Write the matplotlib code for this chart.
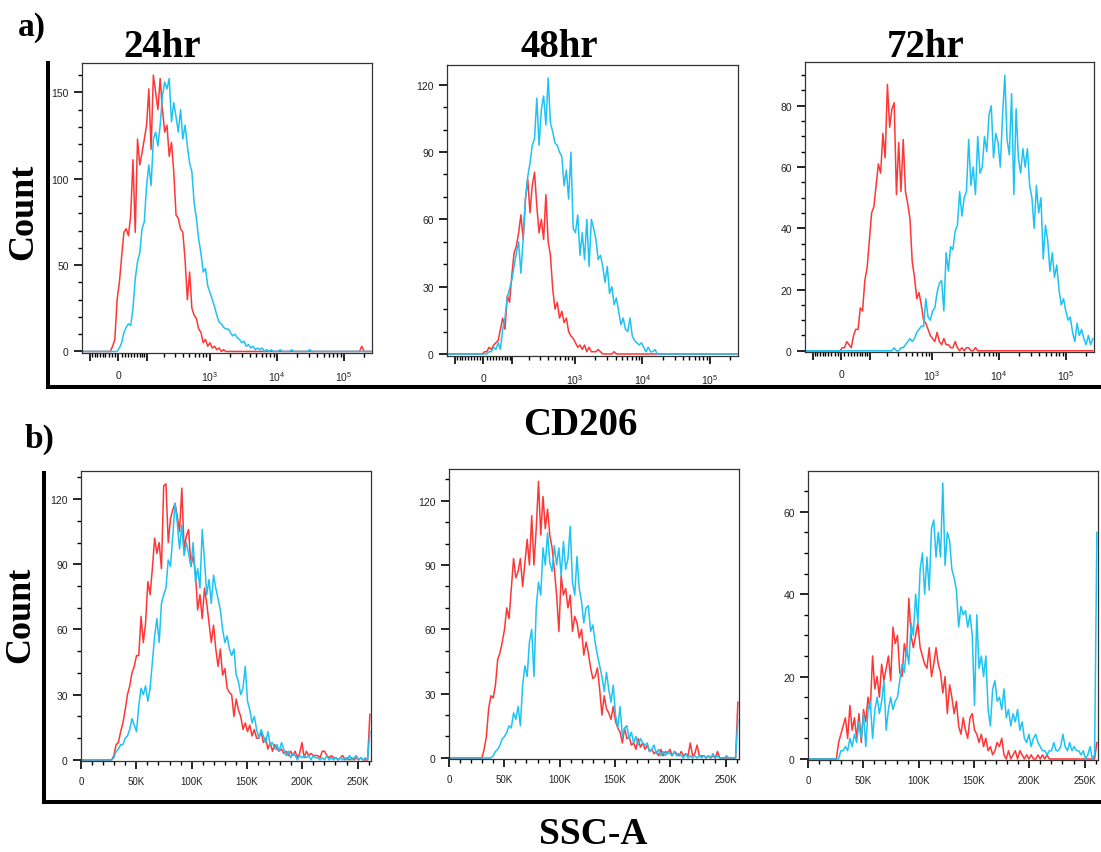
import numpy as np
import matplotlib
matplotlib.use('Agg')
import matplotlib.pyplot as plt
from matplotlib.lines import Line2D

W, H = 1101, 853
plt.rcParams['mathtext.default'] = 'regular'

RED = '#ff3636'
CYAN = '#1ec3f3'
N_BINS = 128

# ---------------- CD206 histograms (biexponential axis) ----------------
# counts per bin, starting at bin index *_start
cd206_24h_red_start = 12
cd206_24h_red = [0, 3, 7, 30, 40, 55, 69, 71, 67, 79, 111, 69, 123, 108, 115, 123, 131, 152,
                 117, 160, 150, 140, 158, 140, 127, 131, 113, 121, 104, 79, 77, 71, 69, 53,
                 30, 46, 25, 21, 19, 13, 11, 5, 7, 3, 5, 2, 3, 1, 2, 0, 1] + [0] * 60 + [3]
cd206_24h_cyan_start = 14
cd206_24h_cyan = [0, 0, 2, 5, 11, 14, 16, 15, 25, 42, 52, 57, 71, 75, 96, 108, 96, 123, 127,
                  119, 131, 148, 156, 152, 158, 133, 144, 136, 127, 140, 123, 131, 119, 109,
                  104, 86, 77, 65, 57, 46, 48, 38, 34, 30, 26, 21, 17, 16, 14, 13, 13, 11, 9,
                  10, 8, 7, 5, 6, 3, 4, 2, 3, 1, 2, 1, 2, 0, 1, 0, 1, 0, 0, 0, 1, 0, 0, 0, 0,
                  1, 0, 0, 0, 0, 0, 0, 0, 1]

cd206_48h_red_start = 15
cd206_48h_red = [0, 1, 1, 3, 2, 4, 5, 6, 11, 16, 11, 26, 23, 35, 45, 48, 54, 62, 51, 69, 78,
                 63, 75, 81, 66, 54, 60, 51, 71, 50, 44, 29, 20, 23, 16, 19, 14, 16, 10, 8, 7,
                 5, 3, 4, 2, 4, 1, 3, 1, 1, 1, 2, 1, 0, 0, 0, 0, 0, 1]
cd206_48h_cyan_start = 17
cd206_48h_cyan = [0, 1, 1, 3, 2, 5, 2, 11, 16, 25, 29, 33, 39, 45, 50, 36, 51, 69, 79, 85, 93,
                  96, 114, 93, 109, 115, 102, 123, 103, 99, 94, 93, 90, 88, 75, 82, 69, 90, 56,
                  54, 62, 44, 54, 42, 60, 39, 60, 56, 51, 42, 44, 39, 32, 39, 27, 30, 22, 25,
                  19, 13, 16, 11, 10, 16, 8, 6, 5, 4, 5, 3, 1, 3, 1, 1, 2, 0]

cd206_72h_red_start = 15
cd206_72h_red = [0, 1, 1, 3, 2, 1, 5, 7, 7, 14, 13, 23, 27, 36, 45, 47, 54, 61, 58, 71, 63,
                 87, 73, 79, 81, 51, 68, 52, 69, 52, 48, 43, 29, 24, 17, 19, 15, 10, 9, 7, 5,
                 4, 3, 6, 3, 2, 4, 2, 2, 1, 1, 3, 1, 0, 1, 0, 1, 1, 0, 0, 1]
cd206_72h_cyan_start = 38
cd206_72h_cyan = [0, 1, 0, 0, 1, 1, 2, 3, 4, 3, 4, 6, 7, 8, 8, 17, 11, 10, 13, 14, 19, 22, 23,
                  13, 32, 26, 34, 33, 39, 41, 52, 44, 50, 52, 69, 54, 60, 51, 70, 58, 60, 70,
                  65, 77, 80, 63, 71, 68, 60, 77, 90, 69, 64, 84, 51, 79, 63, 58, 66, 60, 66,
                  54, 50, 40, 54, 45, 50, 30, 41, 36, 26, 32, 24, 28, 20, 15, 17, 13, 10, 11,
                  6, 3, 9, 5, 7, 4, 2, 5, 2, 4]

# ---------------- SSC-A histograms (linear axis, 2048 per bin) ----------------
ssc_24h_red_start = 13
ssc_24h_red = [0, 2, 7, 8, 13, 17, 23, 30, 34, 40, 43, 48, 48, 66, 54, 63, 82, 76, 88, 102, 95,
               100, 88, 126, 127, 100, 111, 115, 118, 112, 105, 125, 97, 103, 106, 89, 94, 86,
               69, 76, 65, 79, 72, 63, 54, 62, 51, 43, 51, 39, 42, 33, 31, 30, 20, 28, 23, 20,
               14, 17, 13, 16, 11, 14, 10, 10, 13, 8, 10, 5, 8, 4, 7, 5, 4, 5, 3, 4, 2, 4, 2,
               4, 1, 3, 8, 1, 4, 2, 3, 2, 2, 2, 1, 4, 4, 2, 1, 2, 1, 1, 0, 1, 2, 0, 1, 0, 1, 0,
               1, 0, 1]
ssc_24h_cyan_start = 13
ssc_24h_cyan = [0, 1, 4, 5, 7, 7, 10, 11, 14, 19, 16, 13, 25, 33, 30, 34, 27, 33, 45, 57, 65,
                54, 72, 76, 79, 92, 89, 103, 118, 109, 97, 108, 94, 100, 95, 89, 100, 82, 88,
                79, 106, 92, 76, 83, 72, 85, 79, 74, 69, 60, 54, 57, 51, 48, 51, 39, 36, 30,
                33, 43, 27, 23, 17, 20, 14, 10, 14, 11, 8, 13, 7, 8, 5, 7, 4, 8, 5, 2, 4, 1, 3,
                2, 0, 2, 1, 2, 1, 2, 0, 2, 1, 1, 0, 1, 0, 2, 0, 1, 0, 1, 0, 1, 0, 1, 0, 2, 0, 1,
                2, 0, 1, 0, 1]
ssc_24h_edge = [21, 13]  # last-channel pile-up (red, cyan)

ssc_48h_red_start = 14
ssc_48h_red = [0, 4, 10, 23, 29, 28, 34, 46, 49, 54, 60, 70, 65, 79, 93, 84, 87, 93, 80, 91,
               102, 90, 113, 90, 107, 129, 104, 122, 107, 116, 104, 98, 88, 76, 59, 85, 76, 79,
               70, 76, 59, 66, 63, 56, 60, 48, 54, 49, 42, 37, 38, 42, 32, 20, 29, 23, 21, 18,
               24, 17, 14, 12, 7, 14, 9, 10, 6, 7, 4, 9, 5, 7, 4, 6, 3, 4, 2, 3, 1, 4, 1, 3, 2,
               4, 1, 3, 2, 1, 3, 1, 2, 1, 7, 1, 2, 6, 1, 1, 1, 0, 1, 0, 1, 0, 3]
ssc_48h_cyan_start = 18
ssc_48h_cyan = [0, 1, 3, 4, 6, 9, 10, 12, 15, 14, 21, 18, 24, 15, 34, 43, 38, 54, 60, 38, 70,
                82, 76, 98, 90, 105, 91, 87, 99, 90, 98, 85, 101, 88, 93, 108, 82, 76, 94, 79,
                73, 63, 70, 71, 59, 62, 54, 48, 43, 38, 31, 40, 32, 26, 34, 20, 14, 24, 10, 14,
                15, 9, 12, 7, 10, 6, 9, 7, 6, 7, 3, 4, 6, 2, 4, 1, 3, 1, 3, 2, 1, 3, 1, 2, 1, 0,
                2, 0, 1, 0, 1, 0, 1, 0, 1, 0, 1, 0, 2, 0, 1, 0, 0, 0, 1]
ssc_48h_edge = [26, 18]

ssc_72h_red_start = 12
ssc_72h_red = [0, 4, 6, 8, 10, 5, 13, 7, 10, 5, 11, 4, 12, 9, 15, 12, 25, 17, 20, 15, 23, 19,
               22, 25, 19, 32, 28, 30, 21, 20, 28, 25, 39, 30, 27, 30, 33, 27, 25, 23, 22, 27,
               20, 23, 27, 23, 21, 16, 20, 11, 18, 15, 11, 14, 8, 6, 10, 7, 5, 10, 11, 7, 6, 4,
               6, 3, 5, 2, 3, 1, 2, 4, 3, 5, 1, 0, 2, 0, 1, 2, 0, 2, 1, 0, 1, 0, 1, 0, 0, 1, 0,
               1, 0, 1]
ssc_72h_cyan_start = 13
ssc_72h_cyan = [0, 2, 2, 3, 2, 5, 3, 6, 4, 9, 5, 11, 3, 12, 14, 5, 12, 15, 11, 14, 19, 7, 12,
                15, 12, 14, 15, 19, 23, 21, 27, 23, 33, 30, 40, 33, 46, 50, 40, 49, 41, 56, 58,
                49, 55, 49, 67, 47, 55, 53, 46, 44, 41, 32, 37, 35, 36, 32, 35, 30, 13, 35, 22,
                25, 20, 25, 12, 8, 17, 19, 14, 15, 12, 17, 10, 12, 8, 11, 9, 12, 7, 9, 5, 4, 6,
                3, 5, 6, 4, 3, 2, 2, 1, 2, 2, 4, 2, 2, 3, 6, 3, 2, 4, 2, 3, 2, 2, 1, 2, 0, 1, 3,
                0, 1]
ssc_72h_edge = [4, 55]

time_labels = ['24hr', '48hr', '72hr']

# y-axis ranges, major and minor tick steps per panel
cd206_ylims = [(-0.9, 167), (-0.9, 128.8), (-0.4, 94.3)]
cd206_ysteps = [(50, 10), (30, 10), (20, 5)]
ssc_ylims = [(-0.5, 132.9), (-0.5, 134.8), (-0.25, 69.9)]
ssc_ysteps = [(30, 10), (30, 10), (20, 5)]

# ---------------- axis transforms ----------------
C = 88.0


def fwd(x):
    return np.arcsinh(np.asarray(x, dtype=float) / C)


def inv(t):
    return C * np.sinh(t)


CD_LIM = (-140, 262144)
SSC_LIM = (0, 262144)
SSC_BIN = 2048

t_edges = np.linspace(fwd(CD_LIM[0]), fwd(CD_LIM[1]), N_BINS + 1)
cd_x = inv((t_edges[:-1] + t_edges[1:]) / 2)
ssc_x = (np.arange(N_BINS) + 0.5) * SSC_BIN


def full(start, vals, edge=None):
    c = np.zeros(N_BINS)
    c[start:start + len(vals)] = vals
    if edge is not None:
        c[-1] = edge
    return c


fig = plt.figure(figsize=(W / 100, H / 100), dpi=100)


def px_axes(l, t, r, b):
    return fig.add_axes([l / W, 1 - b / H, (r - l) / W, (b - t) / H])


def style(ax, ylim, ysteps, xpad, xsize):
    ax.set_ylim(*ylim)
    major, minor = ysteps
    ax.set_yticks(np.arange(0, ylim[1], major))
    ax.set_yticks(np.arange(0, ylim[1], minor), minor=True)
    for s in ax.spines.values():
        s.set_linewidth(0.9)
        s.set_color('#333333')
    ax.tick_params(axis='both', which='major', direction='out', length=5.5, width=1.2,
                   color='black', labelcolor='#222222')
    ax.tick_params(axis='both', which='minor', direction='out', length=2.8, width=1.0,
                   color='black')
    ax.tick_params(axis='y', which='major', pad=4, labelsize=7.5)
    ax.tick_params(axis='x', which='major', pad=xpad, labelsize=xsize)
    for lab in ax.get_xticklabels() + ax.get_yticklabels():
        lab.set_family('Liberation Sans')


top_boxes = [(82, 64, 372, 354), (447, 66, 738, 357), (805, 63, 1094, 353)]
bot_boxes = [(81, 472, 371, 762), (449, 470, 739, 760), (808, 472, 1098, 761)]

cd_curves = [
    (full(cd206_24h_red_start, cd206_24h_red), full(cd206_24h_cyan_start, cd206_24h_cyan)),
    (full(cd206_48h_red_start, cd206_48h_red), full(cd206_48h_cyan_start, cd206_48h_cyan)),
    (full(cd206_72h_red_start, cd206_72h_red), full(cd206_72h_cyan_start, cd206_72h_cyan)),
]
ssc_curves = [
    (full(ssc_24h_red_start, ssc_24h_red, ssc_24h_edge[0]),
     full(ssc_24h_cyan_start, ssc_24h_cyan, ssc_24h_edge[1])),
    (full(ssc_48h_red_start, ssc_48h_red, ssc_48h_edge[0]),
     full(ssc_48h_cyan_start, ssc_48h_cyan, ssc_48h_edge[1])),
    (full(ssc_72h_red_start, ssc_72h_red, ssc_72h_edge[0]),
     full(ssc_72h_cyan_start, ssc_72h_cyan, ssc_72h_edge[1])),
]

cd_major = [-100, 0, 100, 1e3, 1e4, 1e5]
cd_major_labels = ['', '0', '', r'$10^{3}$', r'$10^{4}$', r'$10^{5}$']
cd_minor = ([-v for v in range(10, 100, 10)] + list(range(10, 100, 10))
            + list(range(200, 1000, 100)) + list(range(2000, 10000, 1000))
            + list(range(20000, 100000, 10000)) + [200000])

for i in range(3):
    ax = px_axes(*top_boxes[i])
    ax.set_xscale('function', functions=(fwd, inv))
    red, cyan = cd_curves[i]
    ax.plot(cd_x, red, color=RED, lw=1.1)
    ax.plot(cd_x, cyan, color=CYAN, lw=1.1)
    ax.set_xlim(*CD_LIM)
    ax.set_xticks(cd_major)
    ax.set_xticklabels(cd_major_labels)
    ax.set_xticks(cd_minor, minor=True)
    ax.xaxis.set_minor_formatter(plt.NullFormatter())
    style(ax, cd206_ylims[i], cd206_ysteps[i], 6.5, 7.5)

ssc_major = np.arange(0, 260000, 50000)
ssc_labels = ['0', '50K', '100K', '150K', '200K', '250K']
for i in range(3):
    ax = px_axes(*bot_boxes[i])
    red, cyan = ssc_curves[i]
    ax.plot(ssc_x, red, color=RED, lw=1.1)
    ax.plot(ssc_x, cyan, color=CYAN, lw=1.1)
    ax.set_xlim(*SSC_LIM)
    ax.set_xticks(ssc_major)
    ax.set_xticklabels(ssc_labels)
    ax.set_xticks(np.arange(0, 262144, 10000), minor=True)
    style(ax, ssc_ylims[i], ssc_ysteps[i], 5.5, 7)


def ftext(x, y, s, size, **kw):
    fig.text(x / W, 1 - y / H, s, fontsize=size, family='Liberation Serif',
             weight='bold', color='black', **kw)


def fline(xs, ys):
    fig.add_artist(Line2D([x / W for x in xs], [1 - y / H for y in ys],
                          transform=fig.transFigure, color='black', lw=2.9,
                          solid_capstyle='butt'))


# framing lines
fline([48, 48], [62, 390])
fline([46, W], [388, 388])
fline([44, 44], [472, 805])
fline([42, W], [803, 803])

# labels
ftext(18, 36, 'a)', 24, ha='left', va='baseline')
ftext(25, 448, 'b)', 24, ha='left', va='baseline')
for xc, lab in zip([162, 559, 926], time_labels):
    ftext(xc, 57, lab, 28, ha='center', va='baseline')
ftext(580, 435, 'CD206', 28, ha='center', va='baseline')
ftext(593, 844, 'SSC-A', 27, ha='center', va='baseline')
ftext(24, 212, 'Count', 26, ha='center', va='center', rotation=90)
ftext(21, 615, 'Count', 26, ha='center', va='center', rotation=90)

fig.savefig('out.png', dpi=100, facecolor='white')
